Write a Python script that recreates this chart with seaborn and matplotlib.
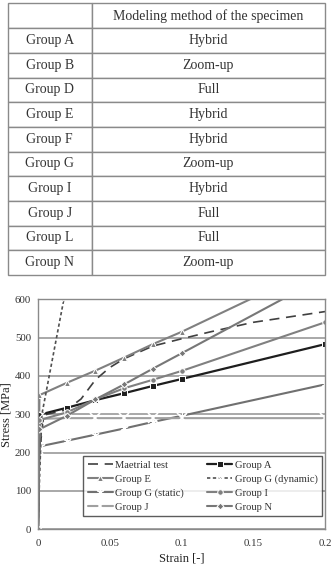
import matplotlib
matplotlib.use("Agg")
import matplotlib.pyplot as plt
import seaborn as sns
import pandas as pd

# ---------------- data ----------------
table_groups = ["Group A", "Group B", "Group D", "Group E", "Group F",
                "Group G", "Group I", "Group J", "Group L", "Group N"]
table_methods = ["Hybrid", "Zoom-up", "Full", "Hybrid", "Hybrid",
                 "Zoom-up", "Hybrid", "Full", "Full", "Zoom-up"]
table_header = ["", "Modeling method of the specimen"]

mat_x = [0, 0.001, 0.004, 0.02, 0.03, 0.04, 0.05, 0.06, 0.08, 0.1, 0.12, 0.15, 0.2]
mat_y = [0, 200, 298, 312, 340, 390, 422, 445, 478, 497, 515, 540, 568]

e_x = [0, 0.001, 0.02, 0.04, 0.06, 0.08, 0.1, 0.2]
e_y = [0, 350, 382, 414, 448, 483, 515, 693]

gs_x = [0, 0.001, 0.002, 0.02, 0.04, 0.06, 0.08, 0.1, 0.2]
gs_y = [0, 205, 217, 231, 247, 263, 280, 296, 378]

j_x = [0, 0.001, 0.02, 0.04, 0.06, 0.08, 0.1, 0.2]
j_y = [0, 288, 290, 290, 290, 290, 290, 290]

a_x = [0, 0.001, 0.02, 0.04, 0.06, 0.08, 0.1, 0.2]
a_y = [0, 299, 317, 337, 355, 374, 392, 483]

gd_x = [0, 0.0012, 0.0027, 0.018]
gd_y = [0, 150, 300, 600]

i_x = [0, 0.001, 0.02, 0.04, 0.06, 0.08, 0.1, 0.2]
i_y = [0, 285, 305, 339, 368, 390, 413, 540]

n_x = [0, 0.001, 0.02, 0.04, 0.06, 0.08, 0.1, 0.2]
n_y = [0, 261, 296, 339, 378, 419, 459, 660]

x_ticks = [0, 0.05, 0.1, 0.15, 0.2]
x_tick_labels = ["0", "0.05", "0.1", "0.15", "0.2"]
y_ticks = [0, 100, 200, 300, 400, 500, 600]

# ---------------- style ----------------
sns.set_style("white")
plt.rcParams["font.family"] = ["Liberation Serif", "DejaVu Serif"]

fig = plt.figure(figsize=(3.32, 5.70), dpi=100)

# ---------------- table ----------------
tax = fig.add_axes([0.0226, 0.5175, 0.9564, 0.4764])
tax.axis("off")
cells = [[g, m] for g, m in zip(table_groups, table_methods)]
tbl = tax.table(cellText=cells, colLabels=table_header, bbox=[0, 0, 1, 1],
                colWidths=[0.266, 0.734], cellLoc="center")
tbl.auto_set_font_size(False)
for (r, c), cell in tbl.get_celld().items():
    cell.set_edgecolor("#8a8a8a")
    cell.set_linewidth(1.0)
    cell.set_facecolor("white")
    cell.get_text().set_fontsize(10)
    cell.get_text().set_color("#333333")
    cell.get_text().set_fontfamily(["Liberation Serif", "DejaVu Serif"])

# ---------------- chart ----------------
ax = fig.add_axes([0.1145, 0.0714, 0.8645, 0.4035])

gray = "#808080"
series = [
    ("Maetrial test", mat_x, mat_y, dict(color="#404040", linestyle=(0, (6, 4)), linewidth=1.2, marker=None)),
    ("Group E", e_x, e_y, dict(color=gray, linewidth=1.5, marker="^", markersize=4)),
    ("Group G (static)", gs_x, gs_y, dict(color="#707070", linewidth=1.5, marker=(6, 2, 0), markersize=6)),
    ("Group J", j_x, j_y, dict(color="#a0a0a0", linewidth=1.5, marker="x", markersize=7, markeredgewidth=1.2)),
    ("Group A", a_x, a_y, dict(color="#1e1e1e", linewidth=1.6, marker="s", markersize=4)),
    ("Group G (dynamic)", gd_x, gd_y, dict(color="#505050", linestyle=(0, (2, 1.5)), linewidth=1.2, marker="x", markersize=5)),
    ("Group I", i_x, i_y, dict(color=gray, linewidth=1.5, marker="o", markersize=4)),
    ("Group N", n_x, n_y, dict(color="#777777", linewidth=1.5, marker="D", markersize=3.5)),
]

for label, xs, ys, kw in series:
    df = pd.DataFrame({"strain": xs, "stress": ys})
    sns.lineplot(data=df, x="strain", y="stress", ax=ax, label=label,
                 sort=False, estimator=None, **kw)

ax.set_xlim(0, 0.2)
ax.set_ylim(0, 600)
ax.set_xticks(x_ticks)
ax.set_xticklabels(x_tick_labels)
ax.set_yticks(y_ticks)
ax.yaxis.grid(True, color="#9a9a9a", linewidth=1.2)
ax.xaxis.grid(False)
ax.set_axisbelow(True)
for s in ax.spines.values():
    s.set_color("#8a8a8a")
    s.set_linewidth(1.0)
ax.tick_params(axis="both", labelsize=7.8, colors="#8a8a8a", labelcolor="#333333",
               length=3, width=0.8, direction="out", pad=2)
ax.tick_params(axis="x", pad=4)
ax.set_xlabel("Strain [-]", fontsize=9, color="#222222", labelpad=3)
ax.set_ylabel("Stress [MPa]", fontsize=9, color="#222222", labelpad=2)

leg = ax.legend(ncol=2, loc="lower left", bbox_to_anchor=(0.157, 0.0565, 0.833, 0.26),
                mode="expand", fontsize=7.6, frameon=True, fancybox=False,
                edgecolor="#333333", handlelength=2.4, handletextpad=0.2,
                columnspacing=0.6, labelspacing=0.42, borderpad=0.45,
                borderaxespad=0)
leg.get_frame().set_linewidth(1.0)
for t in leg.get_texts():
    t.set_color("#333333")

fig.savefig("out.png", dpi=100)
